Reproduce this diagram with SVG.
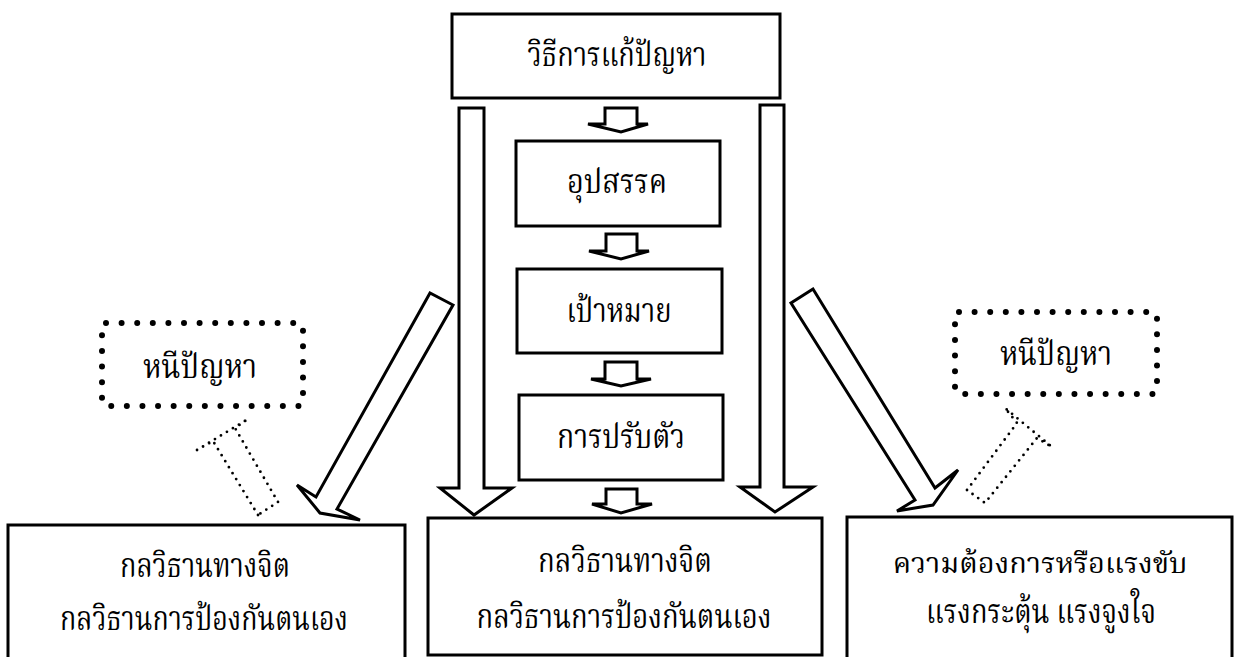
<svg xmlns="http://www.w3.org/2000/svg" width="1236" height="657" viewBox="0 0 1236 657">
<style>
.box{fill:#fff;stroke:#000;stroke-width:3}
.open{fill:none;stroke:#000;stroke-width:3}
.arr{fill:#fff;stroke:#000;stroke-width:3;stroke-linejoin:miter}
.dotbox{fill:none;stroke:#000;stroke-width:6;stroke-linecap:round;stroke-dasharray:0 15.6}
.dotarr{fill:none;stroke:#000;stroke-width:2.8;stroke-linecap:round;stroke-dasharray:0 7}
text{font-family:"Noto Serif Thai","Noto Sans Thai","DejaVu Serif","Noto Sans","DejaVu Sans",serif;font-size:34px;fill:#000;text-anchor:middle}
</style>
<rect width="1236" height="657" fill="#fff"/>
<g id="connectors">
<polygon class="arr" points="459,108 484,108 484,488 512,488 474,515 440,488 459,488"/>
<polygon class="arr" points="760,105 784,105 784,487 813,487 775,512 740,487 760,487"/>
<polygon class="arr" points="605,108 637,108 637,124 648,124 621,132 588,124 605,124"/>
<polygon class="arr" points="606,234 637,234 637,251 649,251 621,259 589,251 606,251"/>
<polygon class="arr" points="605,362 637,362 637,379 651,379 621,386 591,379 605,379"/>
<polygon class="arr" points="606,489 637,489 637,504 652,504 621,513 592,504 606,504"/>
<polygon class="arr" points="430,293 316,497 297,485 320,513 360,520 337,509 453,305"/>
<polygon class="arr" points="813,289 791,303 915,500 897,511 933,505 958,470 935,488"/>
<polygon class="dotarr" points="258,515 213,441 197,450 248,419 235,428 278,502"/>
<polygon class="dotarr" points="967,490 1017,423 1005,408 1052,447 1037,438 985,503"/>
</g>
<g id="n-top"><rect class="box" x="452" y="14" width="328" height="84"/><text x="617" y="66" textLength="179" lengthAdjust="spacingAndGlyphs">วิธีการแก้ปัญหา</text></g>
<g id="n-obstacle"><rect class="box" x="516" y="141" width="204" height="85"/><text x="617" y="193" textLength="100" lengthAdjust="spacingAndGlyphs">อุปสรรค</text></g>
<g id="n-goal"><rect class="box" x="517" y="269" width="205" height="84"/><text x="619" y="322" textLength="105" lengthAdjust="spacingAndGlyphs">เป้าหมาย</text></g>
<g id="n-adjust"><rect class="box" x="519" y="395" width="204" height="85"/><text x="621" y="448" textLength="128" lengthAdjust="spacingAndGlyphs">การปรับตัว</text></g>
<g id="n-escape-left"><rect class="dotbox" x="102" y="323" width="201" height="83" rx="4"/><text x="200" y="378" textLength="114" lengthAdjust="spacingAndGlyphs">หนีปัญหา</text></g>
<g id="n-escape-right"><rect class="dotbox" x="955" y="312" width="202" height="82" rx="4"/><text x="1056" y="365" textLength="112" lengthAdjust="spacingAndGlyphs">หนีปัญหา</text></g>
<g id="n-bottom-left"><path class="open" d="M8,657 V525 H405 V657"/><text x="205" y="577" textLength="170" lengthAdjust="spacingAndGlyphs">กลวิธานทางจิต</text><text x="204" y="630" textLength="288" lengthAdjust="spacingAndGlyphs">กลวิธานการป้องกันตนเอง</text></g>
<g id="n-bottom-center"><rect class="box" x="428" y="518" width="394" height="137"/><text x="625" y="572" textLength="174" lengthAdjust="spacingAndGlyphs">กลวิธานทางจิต</text><text x="624" y="628" textLength="295" lengthAdjust="spacingAndGlyphs">กลวิธานการป้องกันตนเอง</text></g>
<g id="n-bottom-right"><path class="open" d="M847,657 V517 H1232 V657"/><text x="1040" y="573" style="font-size:29px">ความต้องการหรือแรงขับ</text><text x="1041" y="623" textLength="230" lengthAdjust="spacingAndGlyphs">แรงกระตุ้น แรงจูงใจ</text></g>
</svg>
